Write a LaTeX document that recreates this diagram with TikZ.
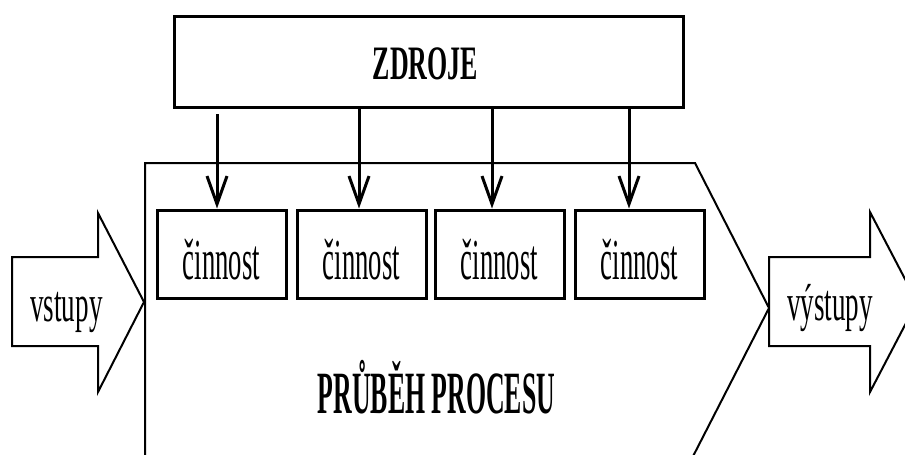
\documentclass[tikz,border=0pt]{standalone}
\usepackage{fontspec}
\setmainfont{Liberation Serif}
% narrow cuts of the serif face for the labels
\newfontfamily\actfont[FakeStretch=0.46]{Liberation Serif}
\newfontfamily\iofont[FakeStretch=0.52]{Liberation Serif}
\newfontfamily\resfont[FakeStretch=0.54]{Liberation Serif}
\newfontfamily\procfont[FakeStretch=0.43]{Liberation Serif}
\usetikzlibrary{arrows.meta,calc}

\tikzset{
  resbox/.style={draw, line width=2.25pt, minimum width=381.75pt, minimum height=68.25pt, inner sep=0pt},
  taskbox/.style={draw, line width=2.25pt, minimum width=96.75pt, minimum height=66pt, inner sep=0pt},
  restext/.style={inner sep=0pt, anchor=base, font=\resfont\bfseries\fontsize{36}{38}\selectfont},
  tasktext/.style={inner sep=0pt, anchor=base, font=\actfont\fontsize{43.5}{46}\selectfont},
  feed/.style={line width=2.25pt, -{Straight Barb[length=21pt, width=15pt, line width=2.25pt]}},
  outline/.style={line width=1.5pt, line join=miter},
  bigarrow/.style={draw, line width=1.5pt, fill=white, line join=miter},
  arrowtext/.style={inner sep=0pt, anchor=base, font=\iofont\fontsize{39}{41}\selectfont},
  title/.style={inner sep=0pt, anchor=base, font=\procfont\bfseries\fontsize{45}{48}\selectfont}
}

\begin{document}
\begin{tikzpicture}[x=0.75pt, y=-0.75pt]
\useasboundingbox (0,0) rectangle (905,454);
\clip (0,0) rectangle (905,454);

% process body: open on the left/bottom, chevron on the right
\draw[outline] (145,470) -- (145,163) -- (695,163) -- (769,308) -- (686,470);

% resources
\node[resbox] (zd) at (428.5,62) {};
\node[restext] (zdt) at ($(zd.center)+(-3,17)$) {ZDROJE};

% activities
\node[taskbox] (c1) at (221.5,254) {};
\node[taskbox] (c2) at (361.5,254) {};
\node[taskbox] (c3) at (499.5,254) {};
\node[taskbox] (c4) at (639.5,254) {};
\foreach \i in {1,...,4}
  \node[tasktext] (c\i t) at ($(c\i.center)+(0,25)$) {činnost};

% feed lines from the resources to each activity
\coordinate (t1) at (217,0);
\coordinate (t2) at (359,0);
\coordinate (t3) at (492,0);
\coordinate (t4) at (629,0);
\draw[feed, shorten <=4pt] (zd.south -| t1) -- (c1.north -| t1);
\draw[feed] (zd.south -| t2) -- (c2.north -| t2);
\draw[feed] (zd.south -| t3) -- (c3.north -| t3);
\draw[feed] (zd.south -| t4) -- (c4.north -| t4);

% inputs
\draw[bigarrow] (12,257) -- (98,257) -- (98,213) -- (144,302) -- (98,392) -- (98,346) -- (12,346) -- cycle;
\node[arrowtext] (in) at (66.5,321) {vstupy};

% outputs
\draw[bigarrow] (769,257) -- (870,257) -- (870,212) -- (917,302) -- (870,392) -- (870,346) -- (769,346) -- cycle;
\node[arrowtext] (out) at (830,320) {výstupy};

% process title
\node[title] (pp) at (436.5,413) {PRŮBĚH PROCESU};
\end{tikzpicture}
\end{document}
